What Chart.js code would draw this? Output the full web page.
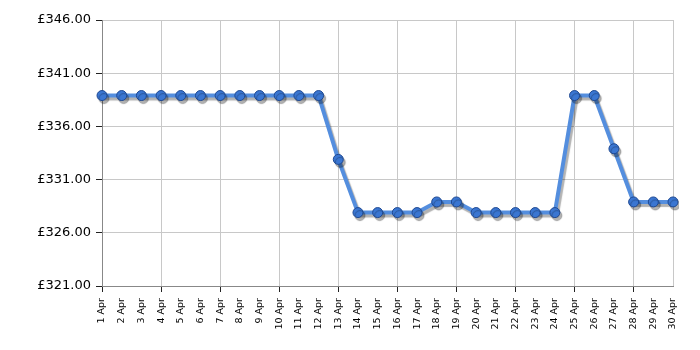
<!DOCTYPE html>
<html>
<head>
<meta charset="utf-8">
<script src="https://cdn.jsdelivr.net/npm/chart.js@4/dist/chart.umd.min.js"></script>
<style>
  html, body { margin: 0; padding: 0; background: #fff; }
  #wrap { width: 700px; height: 350px; }
</style>
</head>
<body>
<div id="wrap"><canvas id="myChart" width="700" height="350"></canvas></div>
<script>
// price history, April
var days = [];
for (var d = 1; d <= 30; d++) days.push(d + ' Apr');

var prices = [
    338.9, 338.9, 338.9, 338.9, 338.9, 338.9, 338.9, 338.9, 338.9, 338.9,
    338.9, 338.9, 332.9, 327.9, 327.9, 327.9, 327.9, 328.9, 328.9, 327.9,
    327.9, 327.9, 327.9, 327.9, 338.9, 338.9, 333.9, 328.9, 328.9, 328.9
];

var yMin = 321, yMax = 346, yStep = 5;

// soft drop shadow under the line and points
var shadowPlugin = {
    id: 'shadow',
    beforeDatasetsDraw: function (chart) {
        var c = chart.ctx;
        c.save();
        c.shadowColor = 'rgba(0,0,0,0.3)';
        c.shadowOffsetX = 2;
        c.shadowOffsetY = 3;
        c.shadowBlur = 1;
    },
    afterDatasetsDraw: function (chart) {
        chart.ctx.restore();
    }
};

var ctx = document.getElementById('myChart').getContext('2d');
new Chart(ctx, {
    type: 'line',
    data: {
        labels: days,
        datasets: [{
            data: prices,
            borderColor: 'rgb(84,142,222)',
            borderWidth: 4,
            tension: 0,
            pointRadius: 5,
            pointBackgroundColor: 'rgb(58,118,210)',
            pointBorderColor: 'rgb(30,72,145)',
            pointBorderWidth: 1
        }]
    },
    plugins: [shadowPlugin],
    options: {
        responsive: false,
        animation: false,
        layout: { padding: { top: 20, right: 27, left: 0, bottom: 0 } },
        plugins: { legend: { display: false }, tooltip: { enabled: false } },
        scales: {
            x: {
                offset: false,
                afterFit: function (s) { s.height = 64; },
                border: { color: '#888', width: 1 },
                grid: {
                    color: function (c) { return (c.index % 3 === 0 || c.index === 29) ? '#c8c8c8' : 'rgba(0,0,0,0)'; },
                    tickColor: function (c) { return c.index % 3 === 0 ? '#222' : 'rgba(0,0,0,0)'; },
                    tickLength: 6
                },
                ticks: {
                    autoSkip: false,
                    minRotation: 90,
                    maxRotation: 90,
                    padding: 6,
                    color: '#000',
                    font: { family: 'DejaVu Sans', size: 9.5 }
                }
            },
            y: {
                min: yMin,
                max: yMax,
                afterFit: function (s) { s.width = 102; },
                border: { color: '#888', width: 1 },
                grid: { color: '#c8c8c8', tickColor: '#222', tickLength: 6 },
                ticks: {
                    stepSize: yStep,
                    padding: 5,
                    color: '#000',
                    font: { family: 'DejaVu Sans', size: 13 },
                    callback: function (v) { return '£' + v.toFixed(2); }
                }
            }
        }
    }
});
</script>
</body>
</html>
